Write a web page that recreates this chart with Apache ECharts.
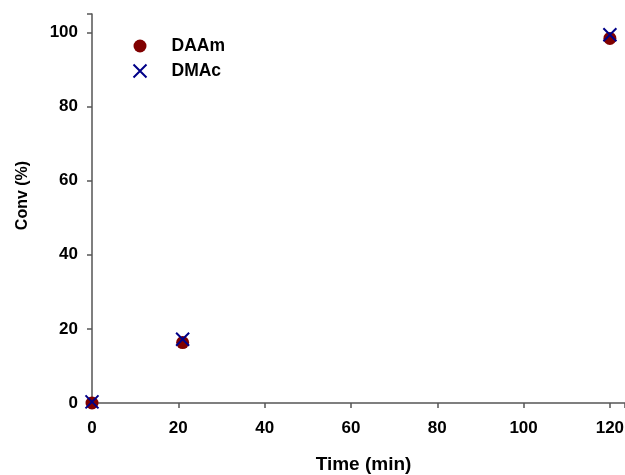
<!DOCTYPE html>
<html><head><meta charset="utf-8">
<script src="https://cdn.jsdelivr.net/npm/echarts@6/dist/echarts.min.js"></script>
<style>html,body{margin:0;padding:0;background:#fff}#c{width:625px;height:475px}</style>
</head><body><div id="c"></div>
<script>
var timeDAAm = [0, 21, 120];
var convDAAm = [0, 16.3, 98.4];
var timeDMAc = [0, 21, 120];
var convDMAc = [0.3, 17.2, 99.4];
var xTicks = [0, 20, 40, 60, 80, 100, 120];
var yTicks = [0, 20, 40, 60, 80, 100];

var crossPath = 'path://M0,0L10,10M10,0L0,10';
var font = 'Liberation Sans, Arial, sans-serif';
var chart = echarts.init(document.getElementById('c'));
var axisLine = {lineStyle: {color: '#555', width: 1.5}};
chart.setOption({
  animation: false,
  grid: {left: 92, top: 14, right: 0, bottom: 72, containLabel: false, outerBoundsMode: 'none'},
  legend: {
    left: 126, top: 32, orient: 'vertical', itemGap: 7, itemWidth: 13, itemHeight: 13,
    textStyle: {fontFamily: font, fontWeight: 'bold', fontSize: 17.5, lineHeight: 18, color: '#000', padding: [0, 0, 0, 20]},
    data: [{name: 'DAAm', icon: 'circle'}, {name: 'DMAc', icon: crossPath}]
  },
  xAxis: {
    type: 'value', min: 0, max: 123.5, interval: 20,
    axisLine: axisLine, axisTick: {show: true, length: 5, lineStyle: {color: '#555', width: 1.5}},
    splitLine: {show: false},
    axisLabel: {fontFamily: font, fontWeight: 'bold', fontSize: 17, color: '#000', margin: 17,
      formatter: function (v) { return xTicks.indexOf(v) >= 0 ? String(v) : ''; }},
    name: 'Time (min)', nameLocation: 'middle', nameGap: 52,
    nameTextStyle: {fontFamily: font, fontWeight: 'bold', fontSize: 19, color: '#000', padding: [0, 0, 0, 10]}
  },
  yAxis: {
    type: 'value', min: 0, max: 105, interval: 20,
    axisLine: axisLine, axisTick: {show: true, length: 5, lineStyle: {color: '#555', width: 1.5}},
    splitLine: {show: false},
    axisLabel: {fontFamily: font, fontWeight: 'bold', fontSize: 17, color: '#000', margin: 14,
      formatter: function (v) { return yTicks.indexOf(v) >= 0 ? String(v) : ''; }},
    name: 'Conv (%)', nameLocation: 'middle', nameGap: 61, nameRotate: 90,
    nameTextStyle: {fontFamily: font, fontWeight: 'bold', fontSize: 16, color: '#000', padding: [0, 0, 0, 26]}
  },
  series: [
    {name: 'DAAm', type: 'scatter', symbol: 'circle', symbolSize: 13,
     itemStyle: {color: '#800000', opacity: 1},
     data: timeDAAm.map(function (t, i) { return [t, convDAAm[i]]; })},
    {name: 'DMAc', type: 'scatter', symbol: crossPath, symbolSize: 13,
     itemStyle: {color: 'none', borderColor: '#000088', borderWidth: 2, opacity: 1},
     data: timeDMAc.map(function (t, i) { return [t, convDMAc[i]]; })}
  ]
});
</script></body></html>
